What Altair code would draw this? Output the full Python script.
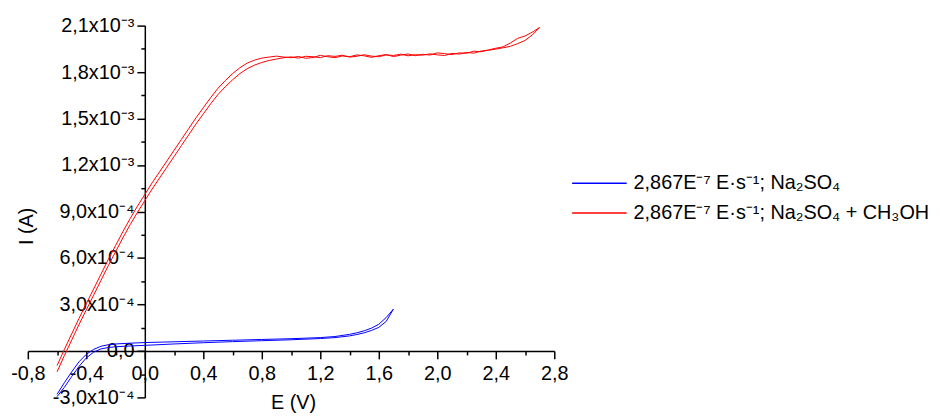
import altair as alt
import pandas as pd

# ---- data: E in V, I in units of 1e-3 A ----
S1 = "2,867E\u207b\u2077 E\u00b7s\u207b\u00b9; Na\u2082SO\u2084"
S2 = "2,867E\u207b\u2077 E\u00b7s\u207b\u00b9; Na\u2082SO\u2084 + CH\u2083OH"

red_fwd_x = [-0.60, -0.55, -0.50, -0.45, -0.40, -0.35, -0.30, -0.25, -0.20, -0.15,
             -0.10, -0.05, 0.00, 0.05, 0.10, 0.15, 0.20, 0.25, 0.30, 0.35,
             0.40, 0.45, 0.50, 0.55, 0.60, 0.65, 0.70, 0.75, 0.80, 0.85,
             0.90, 0.95, 1.00, 1.05, 1.10, 1.15, 1.20, 1.25, 1.30, 1.35,
             1.40, 1.45, 1.50, 1.55, 1.60, 1.65, 1.70, 1.75, 1.80, 1.85,
             1.90, 1.95, 2.00, 2.05, 2.10, 2.15, 2.20, 2.25, 2.30, 2.35,
             2.40, 2.45, 2.50, 2.55, 2.60, 2.65, 2.70]
red_fwd_y = [-0.135, -0.03, 0.07, 0.17, 0.265, 0.36, 0.455, 0.55, 0.64, 0.73,
             0.815, 0.895, 0.97, 1.045, 1.115, 1.185, 1.255, 1.325, 1.395, 1.465,
             1.53, 1.595, 1.655, 1.705, 1.75, 1.79, 1.822, 1.845, 1.862, 1.875,
             1.884, 1.893, 1.898, 1.890, 1.902, 1.899, 1.893, 1.906, 1.901, 1.909,
             1.897, 1.902, 1.912, 1.903, 1.899, 1.911, 1.907, 1.916, 1.905, 1.912,
             1.909, 1.918, 1.911, 1.907, 1.921, 1.916, 1.927, 1.922, 1.936, 1.941,
             1.948, 1.957, 1.966, 1.984, 2.004, 2.040, 2.088]

red_rev_x = [2.65, 2.60, 2.55, 2.50, 2.45, 2.40, 2.35, 2.30, 2.25, 2.20,
             2.15, 2.10, 2.05, 2.00, 1.95, 1.90, 1.85, 1.80, 1.75, 1.70,
             1.65, 1.60, 1.55, 1.50, 1.45, 1.40, 1.35, 1.30, 1.25, 1.20,
             1.15, 1.10, 1.05, 1.00, 0.95, 0.90, 0.85, 0.80, 0.75, 0.70,
             0.65, 0.60, 0.55, 0.50, 0.45, 0.40, 0.35, 0.30, 0.25, 0.20,
             0.15, 0.10, 0.05, 0.00, -0.05, -0.10, -0.15, -0.20, -0.25, -0.30,
             -0.35, -0.40, -0.45, -0.50, -0.55, -0.60]
red_rev_y = [2.058, 2.033, 2.018, 1.988, 1.963, 1.954, 1.943, 1.931, 1.935, 1.921,
             1.924, 1.913, 1.919, 1.924, 1.910, 1.915, 1.906, 1.917, 1.909, 1.900,
             1.913, 1.906, 1.895, 1.905, 1.911, 1.899, 1.904, 1.893, 1.899, 1.908,
             1.894, 1.889, 1.901, 1.893, 1.897, 1.903, 1.897, 1.890, 1.877, 1.858,
             1.828, 1.79, 1.745, 1.695, 1.635, 1.57, 1.505, 1.435, 1.365, 1.295,
             1.225, 1.155, 1.085, 1.01, 0.935, 0.855, 0.77, 0.68, 0.59, 0.495,
             0.40, 0.305, 0.21, 0.11, 0.01, -0.095]

blue_fwd_x = [-0.60, -0.55, -0.50, -0.45, -0.40, -0.35, -0.30, -0.25, -0.20, -0.10,
              0.00, 0.20, 0.40, 0.60, 0.80, 1.00, 1.20, 1.30, 1.40, 1.45,
              1.50, 1.55, 1.60, 1.65, 1.70]
blue_fwd_y = [-0.295, -0.235, -0.165, -0.10, -0.045, -0.008, 0.013, 0.022, 0.027, 0.032,
              0.036, 0.045, 0.053, 0.060, 0.066, 0.072, 0.080, 0.086, 0.097, 0.106,
              0.117, 0.132, 0.152, 0.19, 0.27]
blue_rev_x = [1.65, 1.60, 1.55, 1.50, 1.45, 1.40, 1.30, 1.20, 1.00, 0.80,
              0.60, 0.40, 0.20, 0.00, -0.10, -0.20, -0.25, -0.30, -0.35, -0.40,
              -0.45, -0.50, -0.55, -0.60]
blue_rev_y = [0.215, 0.172, 0.147, 0.130, 0.117, 0.107, 0.093, 0.086, 0.079, 0.074,
              0.069, 0.064, 0.059, 0.054, 0.050, 0.045, 0.040, 0.030, 0.010, -0.022,
              -0.07, -0.135, -0.205, -0.28]

x_major = [-0.8, -0.4, 0.0, 0.4, 0.8, 1.2, 1.6, 2.0, 2.4, 2.8]
x_minor = [-0.6, -0.2, 0.2, 0.6, 1.0, 1.4, 1.8, 2.2, 2.6]
y_major = [-0.0003, 0.0, 0.0003, 0.0006, 0.0009, 0.0012, 0.0015, 0.0018, 0.0021]
y_minor = [-0.00015, 0.00015, 0.00045, 0.00075, 0.00105, 0.00135, 0.00165, 0.00195]

UNIT = 1e-3  # lists above are in 1e-3 A

rows = []
for name, xs_, ys_ in [(S1, blue_fwd_x + blue_rev_x, blue_fwd_y + blue_rev_y),
                       (S2, red_fwd_x + red_rev_x, red_fwd_y + red_rev_y)]:
    for k, (x, y) in enumerate(zip(xs_, ys_)):
        rows.append({"series": name, "E": x, "I": y * UNIT, "k": k})
df = pd.DataFrame(rows)

W, H = 531, 375
X_DOM = [-0.8, 2.8]
Y_DOM = [-0.0003, 0.0021]
x_axis_off = -H * (0 - Y_DOM[0]) / (Y_DOM[1] - Y_DOM[0])
y_axis_off = -W * (0 - X_DOM[0]) / (X_DOM[1] - X_DOM[0])

FONT = "Liberation Sans"
x_label = "(datum.value < 0 ? '-' : '') + replace(format(abs(datum.value), '.1f'), '.', ',')"
y_label = ("abs(datum.value) < 1e-9 ? '0,0' : (datum.value < 0 ? '-' : '') + "
           "(abs(datum.value) > 0.00099 ? "
           "replace(format(abs(datum.value) * 1000, '.1f'), '.', ',') + 'x10\u207b\u00b3' : "
           "replace(format(abs(datum.value) * 10000, '.1f'), '.', ',') + 'x10\u207b\u2074')")

common = dict(grid=False, domainColor="black", tickColor="black", labelColor="black",
              titleColor="black", domainWidth=1.5, tickWidth=1.5, labelFont=FONT,
              titleFont=FONT)

xs = alt.Scale(domain=X_DOM, nice=False, zero=False)
ys = alt.Scale(domain=Y_DOM, nice=False, zero=False)

base = alt.Chart(df)

lines = base.mark_line(strokeWidth=1).encode(
    x=alt.X("E:Q", scale=xs, axis=alt.Axis(
        values=x_major, labelExpr=x_label, title="E (V)", orient="bottom",
        offset=x_axis_off, tickSize=8, labelPadding=5, labelFontSize=20,
        labelFlush=False, labelOverlap=False, titleFontSize=20, titleFontWeight="normal",
        titleBaseline="alphabetic", titleX=W / 2 + 2, titleY=58, **common)),
    y=alt.Y("I:Q", scale=ys, axis=alt.Axis(
        values=y_major, labelExpr=y_label, title="I (A)", orient="left",
        offset=y_axis_off, tickSize=8, labelPadding=3, labelFontSize=20,
        labelFlush=False, labelOverlap=False, titleFontSize=20, titleFontWeight="normal",
        titleBaseline="alphabetic", titleAlign="center", titleX=-113, titleY=202,
        **common)),
    color=alt.Color("series:N", scale=alt.Scale(domain=[S1, S2], range=["#0000ff", "#ff0000"]),
                    legend=alt.Legend(title=None, orient="none", legendX=548, legendY=144,
                                      symbolType="stroke", symbolSize=3025,
                                      symbolStrokeWidth=1.5, labelFontSize=20,
                                      labelFont=FONT, labelColor="black",
                                      labelOffset=6, labelLimit=600, clipHeight=30,
                                      rowPadding=0, padding=0)),
    order="k:Q",
)

minor = base.mark_line(opacity=0).encode(
    x=alt.X("E:Q", scale=xs, axis=alt.Axis(
        values=x_minor, labels=False, domain=False, title=None, orient="bottom",
        offset=x_axis_off, tickSize=4, **common)),
    y=alt.Y("I:Q", scale=ys, axis=alt.Axis(
        values=y_minor, labels=False, domain=False, title=None, orient="left",
        offset=y_axis_off, tickSize=4, **common)),
    detail="series:N",
    order="k:Q",
)

chart = alt.layer(lines, minor).resolve_axis(x="independent", y="independent").properties(
    width=W, height=H,
    autosize=alt.AutoSizeParams(type="none"),
    padding={"left": 20, "top": 16, "right": 384, "bottom": 17},
).configure(font=FONT).configure_view(strokeWidth=0, stroke="transparent")

chart.save("out.html", embed_options={"renderer": "svg", "actions": False})
